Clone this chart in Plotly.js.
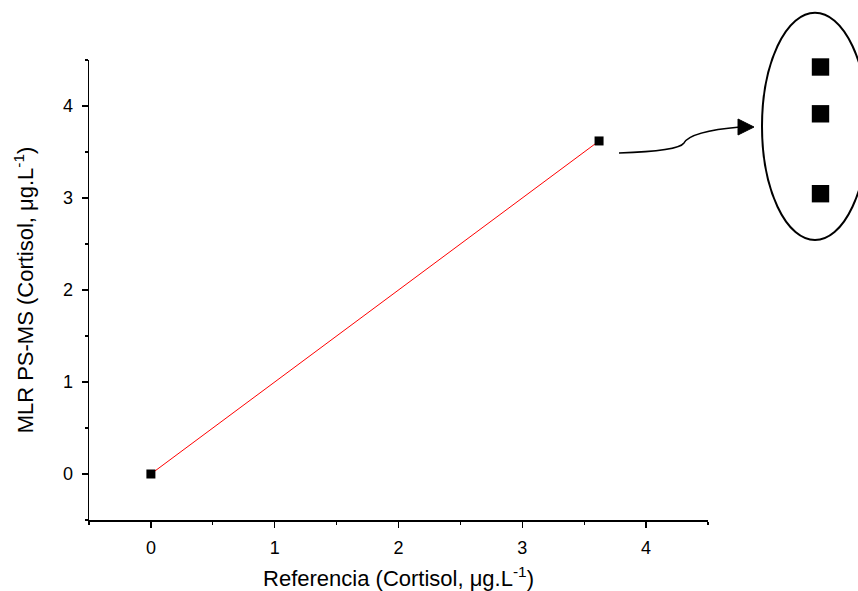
<!DOCTYPE html>
<html>
<head>
<meta charset="utf-8">
<script src="https://cdn.plot.ly/plotly-3.0.1.min.js"></script>
<style>html,body{margin:0;padding:0;background:#fff;}#chart{width:858px;height:591px;}</style>
</head>
<body>
<div id="chart"></div>
<script>
// Data
const refValues = [0, 3.62];
const mlrValues = [0, 3.62];
const xTickVals = [0, 1, 2, 3, 4];
const yTickVals = [0, 1, 2, 3, 4];

const W = 858, H = 591;
const L = 89, R = 150, T = 60, B = 71;
const pw = W - L - R, ph = H - T - B;
function px(x) { return (x - L) / pw; }
function py(y) { return (H - B - y) / ph; }

const traces = [
  {x: refValues, y: mlrValues, mode: 'lines', line: {color: '#ff0000', width: 1}, hoverinfo: 'skip', showlegend: false},
  {x: refValues, y: mlrValues, mode: 'markers', marker: {symbol: 'square', size: 9, color: '#000'}, showlegend: false}
];

function sq(cx, cy, h) {
  return {type: 'rect', xref: 'paper', yref: 'paper', x0: px(cx - h), x1: px(cx + h), y0: py(cy + h), y1: py(cy - h), fillcolor: '#000', line: {width: 0}};
}
function P(x, y) { return px(x).toFixed(4) + ',' + py(y).toFixed(4); }

const shapes = [
  {type: 'circle', xref: 'paper', yref: 'paper', x0: px(762), x1: px(868), y0: py(240), y1: py(12.7), line: {color: '#000', width: 2}},
  sq(820.5, 67, 8.7),
  sq(820.5, 113.8, 8.7),
  sq(820.5, 193.7, 8.7),
  {type: 'path', xref: 'paper', yref: 'paper',
   path: 'M' + P(619,153) + ' C' + P(650,152) + ' ' + P(680,149) + ' ' + P(684,143) + ' C' + P(688,136) + ' ' + P(705,130) + ' ' + P(740,127),
   line: {color: '#000', width: 1.5}},
  {type: 'path', xref: 'paper', yref: 'paper',
   path: 'M' + P(754,127) + ' L' + P(738,119) + ' L' + P(738,135) + ' Z',
   fillcolor: '#000', line: {color: '#000', width: 1}}
];

const FONT = 'Arial';

const layout = {
  width: W, height: H, autosize: false,
  margin: {l: L, r: R, t: T, b: B, pad: 0},
  paper_bgcolor: '#fff', plot_bgcolor: '#fff',
  font: {family: FONT, size: 18, color: '#000'},
  showlegend: false,
  xaxis: {
    showgrid: false, zeroline: false, showline: true, linecolor: '#000', linewidth: 1.5,
    ticks: 'outside', ticklen: 6, tickwidth: 1.2, tickcolor: '#000',
    minor: {dtick: 0.5, ticks: 'outside', ticklen: 3, tickwidth: 1.2, tickcolor: '#000'},
    tickfont: {family: FONT, size: 18, color: '#000'},
    range: [-0.5, 4.5], autorange: false, fixedrange: true,
    tickmode: 'array', tickvals: xTickVals, ticktext: xTickVals.map(String), ticklabelstandoff: 5,
    title: {text: 'Referencia (Cortisol, μg.L<sup>-1</sup>)', font: {family: FONT, size: 22, color: '#000'}, standoff: 15}
  },
  yaxis: {
    showgrid: false, zeroline: false, showline: true, linecolor: '#000', linewidth: 1.5,
    ticks: 'outside', ticklen: 6, tickwidth: 1.2, tickcolor: '#000',
    minor: {dtick: 0.5, ticks: 'outside', ticklen: 3, tickwidth: 1.2, tickcolor: '#000'},
    tickfont: {family: FONT, size: 18, color: '#000'},
    range: [-0.5, 4.5], autorange: false, fixedrange: true,
    tickmode: 'array', tickvals: yTickVals, ticktext: yTickVals.map(String), ticklabelstandoff: 5,
    title: {text: 'MLR PS-MS (Cortisol, μg.L<sup>-1</sup>)', font: {family: FONT, size: 22, color: '#000'}, standoff: 23}
  },
  shapes: shapes
};

Plotly.newPlot('chart', traces, layout, {displayModeBar: false, staticPlot: true});
</script>
</body>
</html>
